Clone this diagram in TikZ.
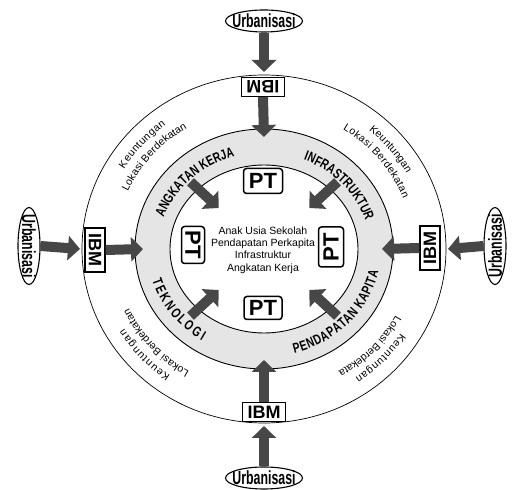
\documentclass[tikz,border=0pt]{standalone}
\usepackage{fontspec}
\setmainfont{Liberation Sans}
\newfontfamily\narrowfont[FakeStretch=0.65]{Liberation Sans}
\newfontfamily\ringfont[FakeStretch=0.74]{Liberation Sans}
\usetikzlibrary{shapes.geometric,arrows.meta,decorations.text,calc}
\definecolor{ringgray}{gray}{0.90}
\definecolor{arrowgray}{gray}{0.28}
\newcommand\ringlabelfont{\ringfont\bfseries\fontsize{14}{14}\selectfont}
\newcommand\bandlabelfont{\fontsize{10.5}{10.5}\selectfont}
\tikzset{
  urbnode/.style={ellipse, draw, line width=1.1pt, inner sep=0pt, fill=white,
    font=\narrowfont\bfseries\fontsize{19}{19}\selectfont},
  ibmnode/.style={rectangle, draw, line width=1.2pt, inner sep=0pt, fill=white,
    font=\bfseries\fontsize{18}{18}\selectfont},
  ptnode/.style={rectangle, rounded corners=3pt, draw, line width=1.5pt, inner sep=0pt,
    fill=white, font=\bfseries\fontsize{22}{22}\selectfont},
  blockarrow/.style={arrowgray, line width=10pt, -{Triangle[length=12pt,width=24pt]}},
  ringlabel/.style={decorate, decoration={text along path, text align=fit to path,
    text={|\ringlabelfont|#1}}},
  bandlabel/.style={decorate, decoration={text along path, text align=fit to path,
    text={|\bandlabelfont|#1}}}
}
\begin{document}
\begin{tikzpicture}[x=1pt,y=1pt]
\useasboundingbox (0,0) rectangle (512,490);
\coordinate (C) at (264,241);

% outer band and grey ring
\draw[line width=0.7pt] (C) ellipse [x radius=182, y radius=174];
\draw[line width=0.9pt, fill=ringgray, even odd rule]
  (C) ellipse [x radius=129, y radius=120]
  (C) ellipse [x radius=94, y radius=84];

% labels inside the grey ring (upper half clockwise, lower half counter-clockwise)
\path[ringlabel={ANGKATAN KERJA}] ($(C)+(161:106 and 96)$)
  arc[start angle=161, end angle=107, x radius=106, y radius=96];
\path[ringlabel={INFRASTRUKTUR}] ($(C)+(68:106 and 96)$)
  arc[start angle=68, end angle=17, x radius=106, y radius=96];
\path[ringlabel={TEKNOLOGI}] ($(C)+(197:117 and 108)$)
  arc[start angle=197, end angle=238, x radius=117, y radius=108];
\path[ringlabel={PENDAPATAN KAPITA}] ($(C)+(285:117 and 108)$)
  arc[start angle=285, end angle=348, x radius=117, y radius=108];

% labels in the outer white band, all running clockwise
\foreach \ka/\kb/\la/\lb in {149/127/156/121, 50/29/58/21, 235/211/240/205, 327/304/332/300} {
  \path[bandlabel={Keuntungan}] ($(C)+(\ka:163 and 155)$)
    arc[start angle=\ka, end angle=\kb, x radius=163, y radius=155];
  \path[bandlabel={Lokasi Berdekatan}] ($(C)+(\la:149 and 141)$)
    arc[start angle=\la, end angle=\lb, x radius=149, y radius=141];
}

% source nodes
\node[urbnode, minimum width=77pt, minimum height=22pt] (ut) at (264,469) {\makebox[0pt]{Urbanisasi}};
\node[urbnode, minimum width=77pt, minimum height=22pt] (ub) at (264,12) {\makebox[0pt]{Urbanisasi}};
\node[urbnode, minimum width=22pt, minimum height=77pt] (ul) at (29,244) {\rotatebox{-90}{\makebox[0pt]{Urbanisasi}}};
\node[urbnode, minimum width=22pt, minimum height=77pt] (ur) at (495,244) {\rotatebox{90}{\makebox[0pt]{Urbanisasi}}};

% IBM boxes on the outer circle
\node[ibmnode, minimum width=43pt, minimum height=19pt] (ibt) at (263,403) {\rotatebox{180}{IBM}};
\node[ibmnode, minimum width=43pt, minimum height=19pt] (ibb) at (264,78) {IBM};
\node[ibmnode, minimum width=20pt, minimum height=44pt] (ibl) at (95,240) {\rotatebox{-90}{IBM}};
\node[ibmnode, minimum width=20pt, minimum height=44pt] (ibr) at (430,242) {\rotatebox{90}{IBM}};

% PT boxes inside the inner circle
\node[ptnode, minimum width=39pt, minimum height=25pt] (ptt) at (263,309) {PT};
\node[ptnode, minimum width=38pt, minimum height=23pt] (ptb) at (263,182) {PT};
\node[ptnode, minimum width=23pt, minimum height=37pt] (ptl) at (193,245) {\rotatebox{-90}{PT}};
\node[ptnode, minimum width=25pt, minimum height=40pt] (ptr) at (331,243) {\rotatebox{90}{PT}};

% central text
\node[align=center, font=\fontsize{10.5}{12.3}\selectfont] (mid) at (263,240)
  {Anak Usia Sekolah\\Pendapatan Perkapita\\Infrastruktur\\Angkatan Kerja};

% ring end points of the incoming arrows
\coordinate (rt) at ($(C)+(90:129 and 112)$);
\coordinate (rb) at ($(C)+(270:129 and 111)$);
\coordinate (rl) at ($(C)+(180:121 and 120)$);
\coordinate (rr) at ($(C)+(0:118 and 120)$);
\coordinate (ot) at ($(C)+(90:182 and 177)$);
\coordinate (ob) at ($(C)+(270:182 and 177)$);
\coordinate (ol) at ($(C)+(180:184 and 174)$);
\coordinate (or) at ($(C)+(0:184 and 174)$);

% arrows from the outside
\draw[blockarrow] (ut.south) -- (ot);
\draw[blockarrow] (ibt.south) -- (rt);
\draw[blockarrow] (ub.north) -- (ob);
\draw[blockarrow] (ibb.north) -- (rb);
\draw[blockarrow] (ul.east) -- (ol);
\draw[blockarrow] (ibl.east) -- (rl);
\draw[blockarrow] (ur.west) -- (or);
\draw[blockarrow] (ibr.west) -- (rr);

% arrows from the ring into the inner circle
\foreach \a/\n in {135/nw,45/ne,225/sw,315/se} {
  \coordinate (\n A) at ($(C)+(\a:104 and 95)$);
  \coordinate (\n B) at ($(C)+(\a:64 and 58)$);
  \draw[blockarrow] (\n A) -- (\n B);
}
\end{tikzpicture}
\end{document}
